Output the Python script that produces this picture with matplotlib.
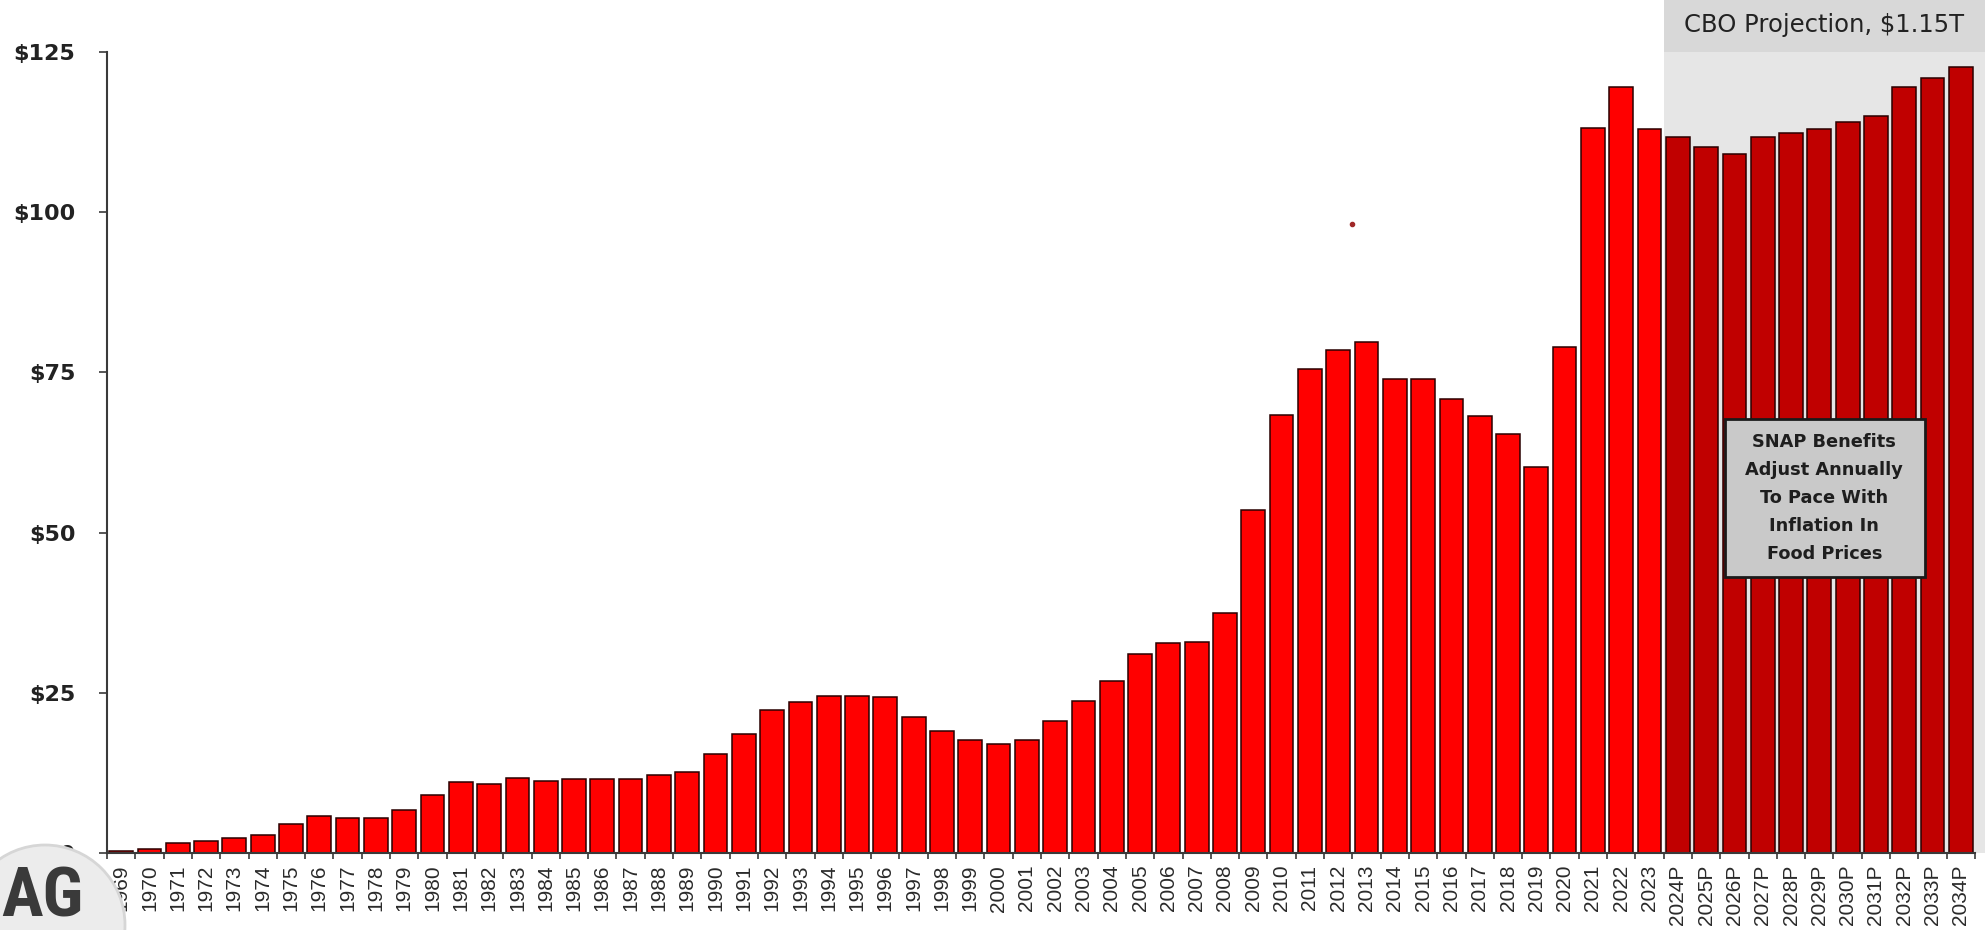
import matplotlib
matplotlib.use("Agg")
import matplotlib.pyplot as plt
from matplotlib.patches import Rectangle, Circle
from matplotlib.transforms import IdentityTransform, blended_transform_factory

# ---------------- data ----------------
hist_years = ["1969", "1970", "1971", "1972", "1973", "1974", "1975", "1976", "1977", "1978",
              "1979", "1980", "1981", "1982", "1983", "1984", "1985", "1986", "1987", "1988",
              "1989", "1990", "1991", "1992", "1993", "1994", "1995", "1996", "1997", "1998",
              "1999", "2000", "2001", "2002", "2003", "2004", "2005", "2006", "2007", "2008",
              "2009", "2010", "2011", "2012", "2013", "2014", "2015", "2016", "2017", "2018",
              "2019", "2020", "2021", "2022", "2023"]
hist_values = [0.25, 0.6, 1.5, 1.8, 2.3, 2.8, 4.6, 5.7, 5.5, 5.5,
               6.7, 9.1, 11.1, 10.7, 11.7, 11.3, 11.5, 11.5, 11.5, 12.1,
               12.6, 15.4, 18.6, 22.3, 23.5, 24.5, 24.5, 24.3, 21.3, 19.0,
               17.6, 17.0, 17.6, 20.6, 23.7, 26.9, 31.0, 32.8, 33.0, 37.4,
               53.6, 68.4, 75.5, 78.5, 79.8, 73.9, 73.9, 70.9, 68.2, 65.4,
               60.3, 78.9, 113.2, 119.6, 113.0]
proj_years = ["2024P", "2025P", "2026P", "2027P", "2028P", "2029P", "2030P",
              "2031P", "2032P", "2033P", "2034P"]
proj_values = [111.7, 110.1, 109.1, 111.7, 112.3, 113.0, 114.0, 115.0, 119.6, 121.0, 122.7]

y_ticks = [0, 25, 50, 75, 100, 125]
y_tick_labels = [r"\$0", r"\$25", r"\$50", r"\$75", r"\$100", r"\$125"]

header_text = r"CBO Projection, \$1.15T"
note_text = "SNAP Benefits\nAdjust Annually\nTo Pace With\nInflation In\nFood Prices"
stray_dot = (43.5, 98.1)

# ---------------- figure ----------------
W, H = 1985, 930
fig = plt.figure(figsize=(W / 100, H / 100), dpi=100)
fig.patch.set_facecolor("white")
ax = fig.add_axes([107 / W, (H - 853) / H, (1975 - 107) / W, (853 - 52) / H])
ax.set_facecolor("none")

n_hist = len(hist_values)
n_all = n_hist + len(proj_values)
x_hist = list(range(n_hist))
x_proj = list(range(n_hist, n_all))
labels = hist_years + proj_years

ax.bar(x_hist, hist_values, width=0.84, color="#ff0000", edgecolor="#2a0000",
       linewidth=1.1, zorder=3)
ax.bar(x_proj, proj_values, width=0.84, color="#c00000", edgecolor="#2a0000",
       linewidth=1.1, zorder=3)

ax.set_xlim(-0.5, n_all - 0.5)
ax.set_ylim(0, 125)

# projection shading + header band
trans = blended_transform_factory(ax.transData, ax.transAxes)
ax.add_patch(Rectangle((n_hist - 0.5, 0), 12, 1.2, transform=trans,
                       facecolor="#e6e6e6", edgecolor="none", zorder=0, clip_on=False))
ax.add_patch(Rectangle((n_hist - 0.5, 1.0), 12, 0.2, transform=trans,
                       facecolor="#d8d8d8", edgecolor="none", zorder=1, clip_on=False))
fig.text(1824 / W, (H - 25) / H, header_text, ha="center", va="center",
         fontsize=17.5, color="#222222", family="DejaVu Sans")

# annotation box
ax.add_patch(Rectangle((56.65, 43.0), 7.07, 24.7, facecolor="#c9c9c9",
                       edgecolor="#1a1a1a", linewidth=2.0, zorder=5))
ax.text(60.18, 55.4, note_text, ha="center", va="center", multialignment="center",
        fontsize=12.8, fontweight="bold", color="#1e1e1e", linespacing=1.7,
        family="DejaVu Sans", zorder=6)

# stray dot
ax.plot([stray_dot[0]], [stray_dot[1]], "o", ms=3, color="#a02828", zorder=4)

# spines
for s in ["top", "right"]:
    ax.spines[s].set_visible(False)
for s in ["left", "bottom"]:
    ax.spines[s].set_color("#3a3a3a")
    ax.spines[s].set_linewidth(1.5)
    ax.spines[s].set_zorder(4)

# y axis
ax.set_yticks(y_ticks)
ax.set_yticklabels(y_tick_labels, fontsize=16, fontweight="bold", family="DejaVu Sans",
                   color="#222222")
ax.tick_params(axis="y", length=5.8, width=1.2, color="#3a3a3a", pad=17)

# x axis
ax.set_xticks([i - 0.5 for i in range(n_all + 1)])
ax.set_xticklabels([])
ax.set_xticks(x_hist + x_proj, minor=True)
ax.set_xticklabels(labels, minor=True, rotation=90, fontsize=15,
                   family="Liberation Sans", color="#2a2a2a")
ax.tick_params(axis="x", which="major", length=4.5, width=1.2, color="#3a3a3a")
ax.tick_params(axis="x", which="minor", length=0, pad=8.5)

# logo
logo = Circle((45, H - 925), 80, transform=IdentityTransform(), facecolor="#ececec",
              edgecolor="#d6d6d6", linewidth=2, zorder=10)
fig.add_artist(logo)
fig.text(1 / W, 0.0, "AG", ha="left", va="bottom", fontsize=50,
         fontweight="bold", color="#3a3a3a", zorder=11,
         family=["Roboto Condensed", "DejaVu Sans"])

fig.savefig("out.png", dpi=100)
